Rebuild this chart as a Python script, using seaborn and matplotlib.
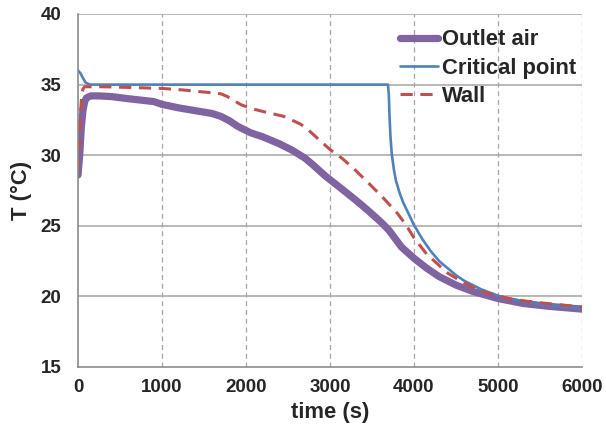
import pandas as pd
import matplotlib
matplotlib.use("Agg")
import matplotlib.pyplot as plt
import seaborn as sns

# Werte
outlet_t = [0, 20, 40, 60, 80, 100, 150, 250, 400, 600, 750, 900, 1000, 1200, 1400,
            1600, 1700, 1800, 1900, 2050, 2200, 2400, 2550, 2700, 2800, 2950, 3100,
            3300, 3450, 3600, 3700, 3750, 3850, 4000, 4150, 4300, 4500, 4700, 5000,
            5300, 5600, 6000]
outlet_T = [28.6, 30.0, 32.0, 33.2, 33.8, 34.05, 34.2, 34.2, 34.15, 34.0, 33.9, 33.8,
            33.6, 33.35, 33.15, 32.95, 32.75, 32.45, 32.05, 31.6, 31.3, 30.8, 30.35,
            29.8, 29.3, 28.5, 27.8, 26.85, 26.1, 25.3, 24.7, 24.3, 23.5, 22.7, 22.0,
            21.4, 20.8, 20.35, 19.85, 19.5, 19.3, 19.1]

crit_t = [0, 30, 60, 90, 120, 150, 300, 1000, 2000, 3000, 3690, 3700, 3710, 3720,
          3735, 3760, 3785, 3830, 3875, 3940, 4000, 4100, 4200, 4300, 4400, 4500,
          4600, 4700, 4800, 5000, 5200, 5500, 5800, 6000]
crit_T = [36.0, 35.8, 35.45, 35.15, 35.05, 35.0, 35.0, 35.0, 35.0, 35.0, 35.0, 34.3,
          32.6, 31.3, 30.1, 29.0, 28.2, 27.3, 26.6, 25.8, 25.05, 24.05, 23.2, 22.5,
          22.0, 21.5, 21.1, 20.8, 20.5, 20.05, 19.75, 19.45, 19.25, 19.15]

wall_t = [0, 15, 30, 45, 60, 80, 150, 300, 600, 1000, 1250, 1450, 1600, 1700, 1780,
          1860, 1950, 2100, 2200, 2450, 2650, 2750, 2850, 3000, 3150, 3300, 3480,
          3630, 3800, 3900, 4000, 4150, 4400, 4600, 4800, 5150, 5500, 6000]
wall_T = [28.9, 30.5, 33.0, 34.3, 34.7, 34.85, 34.85, 34.85, 34.8, 34.73, 34.62,
          34.5, 34.42, 34.35, 34.15, 33.85, 33.55, 33.25, 33.1, 32.75, 32.2, 31.75,
          31.2, 30.4, 29.75, 28.95, 27.9, 27.0, 25.9, 25.1, 24.15, 23.0, 21.65,
          20.95, 20.35, 19.8, 19.55, 19.25]

x_ticks = [0, 1000, 2000, 3000, 4000, 5000, 6000]
y_ticks = [15, 20, 25, 30, 35, 40]

sns.set_style("white")
plt.rcParams["font.family"] = ["Liberation Sans", "DejaVu Sans"]
plt.rcParams["font.weight"] = "bold"

fig = plt.figure(figsize=(6.06, 4.34), dpi=100)
ax = fig.add_axes([78 / 606, 1 - 367 / 434, 504 / 606, 353 / 434])

grid_col = "#a6a6a6"
# Gitterlinien wie im Excel-Original
for yv in y_ticks[1:]:
    ax.axhline(yv, color=grid_col, lw=1.1, zorder=0)
for xv in x_ticks[1:]:
    ax.axvline(xv, color=grid_col, lw=0.9, ls=(0, (4, 3)), zorder=0)

sns.lineplot(x=outlet_t, y=outlet_T, ax=ax, color="#8064A2", lw=5.2,
             label="Outlet air", sort=False)
sns.lineplot(x=crit_t, y=crit_T, ax=ax, color="#4F81BD", lw=1.9,
             label="Critical point", sort=False)
sns.lineplot(x=wall_t, y=wall_T, ax=ax, color="#C0504D", lw=2.2,
             ls=(0, (4, 2.5)), label="Wall", sort=False)

ax.set_xlim(0, 6000)
ax.set_ylim(15, 40)
ax.set_xticks(x_ticks)
ax.set_yticks(y_ticks)
ax.tick_params(length=0, labelsize=13.5)
ax.tick_params(axis="x", pad=9)
ax.tick_params(axis="y", pad=12)
for lab in ax.get_xticklabels() + ax.get_yticklabels():
    lab.set_fontweight("bold")

for side in ["top", "right"]:
    ax.spines[side].set_visible(False)
for side in ["left", "bottom"]:
    ax.spines[side].set_color("#8c8c8c")
    ax.spines[side].set_linewidth(1.2)

ax.set_xlabel("time (s)", fontsize=15.8, fontweight="bold", labelpad=4)
ax.set_ylabel("T (°C)", fontsize=15.8, fontweight="bold", labelpad=6)

leg = ax.legend(loc="upper right", bbox_to_anchor=(1.02, 1.0), frameon=False,
                prop={"size": 15.8, "weight": "bold"}, handlelength=1.75,
                handletextpad=0.2, labelspacing=0.33, borderpad=0.2)

fig.savefig("out.png", dpi=100)
